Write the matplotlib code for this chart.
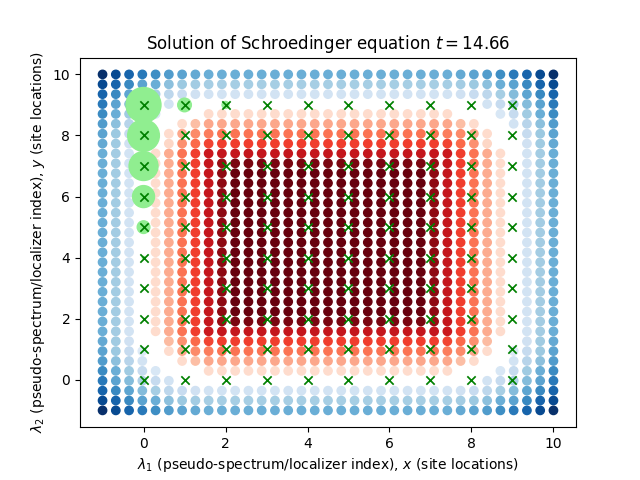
import numpy as np
import matplotlib
matplotlib.use("Agg")
import matplotlib.pyplot as plt

# pseudo-spectrum per row, in percent: negative goes to Blues, positive to Reds, 0 is not drawn
row_00 = [-100, -90, -80, -72, -64, -58, -55, -52] + [-50] * 19 + [-52, -55, -58, -64, -72, -80, -90, -100]
row_01 = [-90, -80, -66, -55, -50, -42, -38, -36] + [-35] * 19 + [-36, -38, -42, -50, -55, -66, -80, -90]
row_02 = [-80, -66, -54, -44, -35, -28, -24, -20] + [-19] * 19 + [-20, -24, -28, -35, -44, -54, -66, -80]
row_03 = [-72, -55, -44, -33, -25, -19, 0, 0] + [0] * 19 + [0, 0, -19, -25, -33, -44, -55, -72]
row_04 = [-65, -50, -37, -25, -16, 0, 0, 0] + [14] * 19 + [0, 0, 0, -16, -25, -37, -50, -65]
row_05 = [-58, -42, -30, -19, 0, 0, 14, 24] + [31] * 19 + [24, 14, 0, 0, -19, -30, -42, -58]
row_06 = [-55, -38, -25, 0, 0, 14, 31, 40, 44] + [47] * 17 + [44, 40, 31, 14, 0, 0, -25, -38, -55]
row_07 = [-52, -37, -20, 0, 0, 16, 38, 50, 60] + [62] * 17 + [60, 50, 38, 16, 0, 0, -20, -37, -52]
row_08 = [-50, -36, -19, 0, 14, 30, 47, 62, 75] + [77] * 17 + [75, 62, 47, 30, 14, 0, -19, -36, -50]
row_09 = [-50, -36, -19, 0, 14, 30, 47, 62, 77, 90] + [96] * 15 + [90, 77, 62, 47, 30, 14, 0, -19, -36, -50]
row_mid = [-50, -36, -19, 0, 14, 30, 47, 62, 77, 92] + [100] * 15 + [92, 77, 62, 47, 30, 14, 0, -19, -36, -50]
row_27 = [-52, -37, -20, 0, 0, 25, 38, 50, 60] + [62] * 17 + [60, 50, 38, 25, 0, 0, -20, -37, -52]
row_28 = [-55, -38, -25, -14, 0, 14, 31, 40, 44] + [47] * 17 + [44, 40, 31, 14, 0, -14, -25, -38, -55]

spectrum_rows = [row_00, row_01, row_02, row_03, row_04, row_05, row_06, row_07, row_08, row_09] \
    + [row_mid] * 15 \
    + [row_09, row_08, row_27, row_28, row_05, row_04, row_03, row_02, row_01, row_00]

# site occupation, x index and y index with marker area
site_x = [0, 0, 0, 0, 0, 0, 1, 2]
site_y = [9, 8, 7, 6, 5, 4, 9, 9]
site_area = [630, 520, 433, 250, 83, 3, 96, 25]

lattice_x = [0, 1, 2, 3, 4, 5, 6, 7, 8, 9]
lattice_y = [0, 1, 2, 3, 4, 5, 6, 7, 8, 9]
time_value = 14.66

values = np.array(spectrum_rows, dtype=float) / 100.0
grid_x, grid_y = np.meshgrid(np.linspace(-1, 10, values.shape[1]), np.linspace(10, -1, values.shape[0]))
lat_x, lat_y = np.meshgrid(lattice_x, lattice_y)

fig, ax = plt.subplots()
neg = values < 0
pos = values > 0
ax.scatter(grid_x[neg], grid_y[neg], c=-values[neg], cmap="Blues", vmin=0, vmax=1)
ax.scatter(grid_x[pos], grid_y[pos], c=values[pos], cmap="Reds", vmin=0, vmax=1)
ax.scatter(site_x, site_y, s=site_area, c="lightgreen")
ax.scatter(lat_x.ravel(), lat_y.ravel(), marker="x", c="green", linewidths=1.25)

ax.set_title(f"Solution of Schroedinger equation $t = {time_value}$")
ax.set_xlabel(r"$\lambda_1$ (pseudo-spectrum/localizer index), $x$ (site locations)")
ax.set_ylabel(r"$\lambda_2$ (pseudo-spectrum/localizer index), $y$ (site locations)")
fig.savefig("out.png", dpi=100)
